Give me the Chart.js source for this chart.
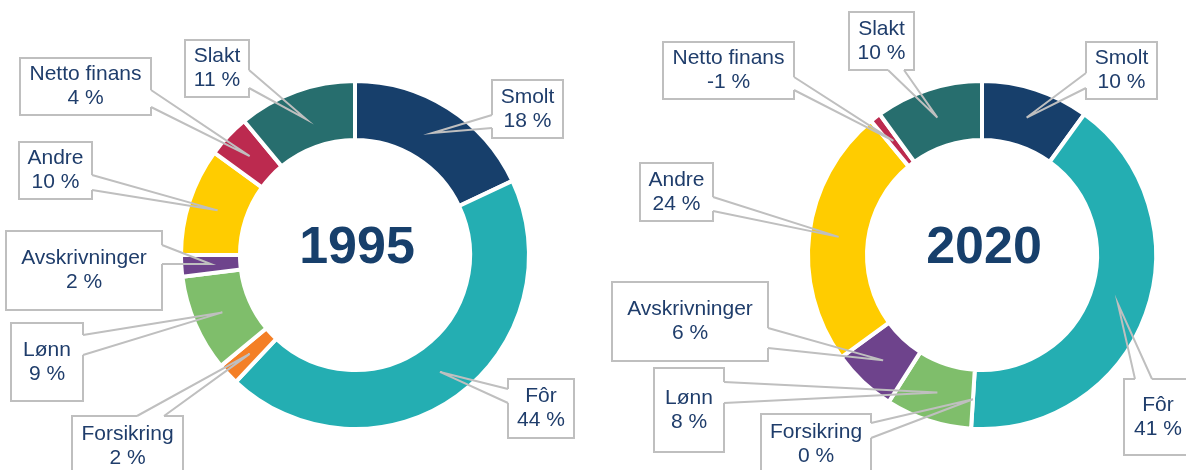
<!DOCTYPE html>
<html>
<head>
<meta charset="utf-8">
<script src="https://cdn.jsdelivr.net/npm/chart.js@4/dist/chart.umd.min.js"></script>
<style>
  body { margin: 0; background: #fff; width: 1186px; height: 470px; overflow: hidden; position: relative; }
  canvas { position: absolute; top: 0; }
  #chart1995 { left: 0; }
  #chart2020 { left: 593px; }
</style>
</head>
<body>
<canvas id="chart1995" width="593" height="470"></canvas>
<canvas id="chart2020" width="593" height="470"></canvas>
<script>
// =======================
// Data
// =======================
const categories = ['Smolt', 'Fôr', 'Forsikring', 'Lønn', 'Avskrivninger', 'Andre', 'Netto finans', 'Slakt'];
const values1995 = [18, 44, 2, 9, 2, 10, 4, 11];
const values2020 = [10, 41, 0, 8, 6, 24, -1, 10];
const years = ['1995', '2020'];
const colors = ['#173f6b', '#24aeb2', '#f47f26', '#7fbe6b', '#6e438c', '#ffcc00', '#bc2a4f', '#276e6e'];

// Label boxes (x, y, w, h) + which side the pointer leaves from and its two base points
const boxes1995 = [
    { x: 492, y: 80,  w: 71,  h: 58, side: 'l', a: 115, b: 128 },
    { x: 508, y: 379, w: 66,  h: 59, side: 'l', a: 389, b: 403 },
    { x: 72,  y: 416, w: 111, h: 60, side: 't', a: 137, b: 164 },
    { x: 11,  y: 323, w: 72,  h: 78, side: 'r', a: 335, b: 355 },
    { x: 6,   y: 231, w: 156, h: 79, side: 'r', a: 245, b: 264 },
    { x: 19,  y: 142, w: 73,  h: 57, side: 'r', a: 175, b: 190 },
    { x: 20,  y: 58,  w: 131, h: 57, side: 'r', a: 90,  b: 107 },
    { x: 185, y: 40,  w: 64,  h: 57, side: 'r', a: 70,  b: 88 }
];
const boxes2020 = [
    { x: 493, y: 42,  w: 71,  h: 57, side: 'l', a: 73,  b: 88 },
    { x: 531, y: 379, w: 68,  h: 76, side: 't', a: 542, b: 559 },
    { x: 168, y: 414, w: 110, h: 60, side: 'r', a: 423, b: 438 },
    { x: 61,  y: 368, w: 70,  h: 84, side: 'r', a: 382, b: 403 },
    { x: 19,  y: 282, w: 156, h: 79, side: 'r', a: 328, b: 348 },
    { x: 47,  y: 163, w: 73,  h: 58, side: 'r', a: 197, b: 211 },
    { x: 70,  y: 42,  w: 131, h: 57, side: 'r', a: 77,  b: 90 },
    { x: 256, y: 12,  w: 65,  h: 58, side: 'b', a: 295, b: 311 }
];

const TEXT_COLOR = '#1f3d6b';
const LINE_COLOR = '#bfbfbf';

function basePoints(b) {
    if (b.side === 'l') return [[b.x, b.a], [b.x, b.b]];
    if (b.side === 'r') return [[b.x + b.w, b.a], [b.x + b.w, b.b]];
    if (b.side === 't') return [[b.a, b.y], [b.b, b.y]];
    return [[b.a, b.y + b.h], [b.b, b.y + b.h]];
}

// =======================
// Callouts + year in the middle
// =======================
function makeCallouts(values, boxes, year) {
    return {
        id: 'callouts' + year,
        afterDraw(chart) {
            const ctx = chart.ctx;
            const meta = chart.getDatasetMeta(0);
            ctx.save();

            boxes.forEach((b, i) => {
                const tip = meta.data[i].tooltipPosition(true);
                const [p1, p2] = basePoints(b);

                ctx.fillStyle = '#fff';
                ctx.fillRect(b.x, b.y, b.w, b.h);
                ctx.strokeStyle = LINE_COLOR;
                ctx.lineWidth = 2;
                ctx.strokeRect(b.x, b.y, b.w, b.h);

                // open the box edge where the pointer starts
                ctx.strokeStyle = '#fff';
                ctx.lineWidth = 3;
                ctx.beginPath();
                ctx.moveTo(p1[0], p1[1]);
                ctx.lineTo(p2[0], p2[1]);
                ctx.stroke();

                ctx.strokeStyle = LINE_COLOR;
                ctx.lineWidth = 2;
                ctx.beginPath();
                ctx.moveTo(p1[0], p1[1]);
                ctx.lineTo(tip.x, tip.y);
                ctx.lineTo(p2[0], p2[1]);
                ctx.stroke();

                ctx.fillStyle = TEXT_COLOR;
                ctx.font = '21px "Liberation Sans", Arial, sans-serif';
                ctx.textAlign = 'center';
                ctx.textBaseline = 'middle';
                const cx = b.x + b.w / 2, cy = b.y + b.h / 2;
                ctx.fillText(categories[i], cx, cy - 12);
                ctx.fillText(values[i] + ' %', cx, cy + 12);
            });

            const arc = meta.data[0];
            ctx.fillStyle = '#173f6b';
            ctx.font = 'bold 52px "Liberation Sans", Arial, sans-serif';
            ctx.textAlign = 'center';
            ctx.textBaseline = 'middle';
            ctx.fillText(year, arc.x + 2, arc.y - 6);
            ctx.restore();
        }
    };
}

function drawDonut(id, values, boxes, year, padding) {
    new Chart(document.getElementById(id), {
        type: 'doughnut',
        data: {
            labels: categories,
            datasets: [{
                data: values.map(v => Math.abs(v)),
                backgroundColor: colors,
                borderColor: '#fff',
                borderWidth: 4
            }]
        },
        options: {
            responsive: false,
            animation: false,
            cutout: '66.1%',
            layout: { padding: padding },
            plugins: {
                legend: { display: false },
                tooltip: { enabled: false }
            }
        },
        plugins: [makeCallouts(values, boxes, year)]
    });
}

drawDonut('chart1995', values1995, boxes1995, years[0], { left: 179, right: 62, top: 79, bottom: 39 });
drawDonut('chart2020', values2020, boxes2020, years[1], { left: 213, right: 28, top: 79, bottom: 39 });
</script>
</body>
</html>
